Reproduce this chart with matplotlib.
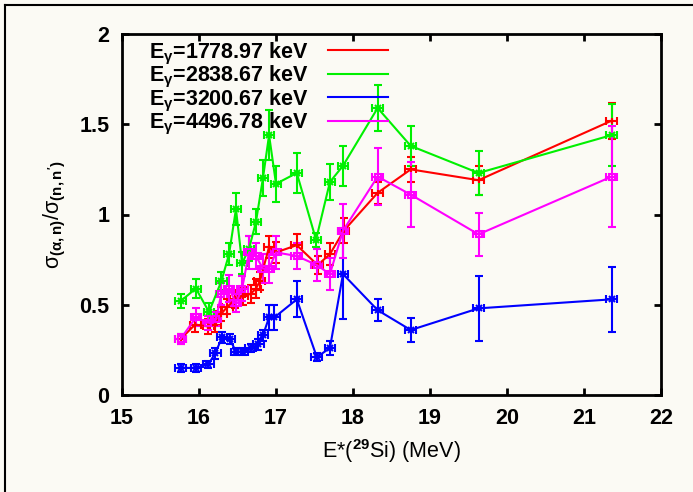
import matplotlib
matplotlib.use("Agg")
import matplotlib.pyplot as plt
from matplotlib.lines import Line2D

plt.rcParams["font.family"] = ["Liberation Sans", "DejaVu Sans"]
plt.rcParams["font.weight"] = "bold"
plt.rcParams["mathtext.fontset"] = "custom"
plt.rcParams["mathtext.rm"] = "Liberation Sans:bold"
plt.rcParams["mathtext.it"] = "Liberation Sans:bold"
plt.rcParams["mathtext.bf"] = "Liberation Sans:bold"
plt.rcParams["mathtext.default"] = "rm"

# --------------------------------------------------
# Cross-section ratios vs excitation energy
# --------------------------------------------------

labels = [
    r"E$_{γ}$=1778.97 keV",
    r"E$_{γ}$=2838.67 keV",
    r"E$_{γ}$=3200.67 keV",
    r"E$_{γ}$=4496.78 keV",
]
colors = ["#ff0000", "#00f000", "#0000ff", "#ff00ff"]
markers = ["+", "x", "x", "s"]

x_err = 0.07

E_red = [15.76, 15.95, 16.12, 16.21, 16.29, 16.37, 16.47, 16.57, 16.67, 16.74, 16.79,
         16.91, 17.00, 17.27, 17.54, 17.70, 17.88, 18.32, 18.75, 19.63, 21.36]
r_red = [0.31, 0.39, 0.38, 0.39, 0.45, 0.49, 0.53, 0.55, 0.56, 0.59, 0.63,
         0.82, 0.79, 0.83, 0.72, 0.78, 0.91, 1.12, 1.25, 1.19, 1.52]
e_red = [0.03, 0.04, 0.04, 0.04, 0.04, 0.04, 0.05, 0.05, 0.05, 0.05, 0.05,
         0.06, 0.06, 0.06, 0.05, 0.06, 0.07, 0.06, 0.07, 0.08, 0.10]

E_green = [15.76, 15.96, 16.13, 16.29, 16.39, 16.48, 16.56, 16.65, 16.74, 16.83,
           16.91, 17.00, 17.27, 17.52, 17.70, 17.87, 18.32, 18.75, 19.63, 21.36]
r_green = [0.52, 0.59, 0.46, 0.63, 0.78, 1.03, 0.73, 0.81, 0.96, 1.20,
           1.44, 1.17, 1.23, 0.86, 1.18, 1.27, 1.59, 1.38, 1.23, 1.44]
e_green = [0.04, 0.05, 0.05, 0.05, 0.06, 0.09, 0.06, 0.07, 0.07, 0.10,
           0.14, 0.10, 0.11, 0.04, 0.10, 0.11, 0.13, 0.11, 0.12, 0.17]

E_blue = [15.76, 15.96, 16.12, 16.21, 16.30, 16.40, 16.48, 16.57, 16.67, 16.77, 16.83,
          16.91, 16.98, 17.27, 17.53, 17.70, 17.87, 18.32, 18.75, 19.63, 21.36]
r_blue = [0.15, 0.15, 0.17, 0.23, 0.32, 0.31, 0.24, 0.24, 0.26, 0.28, 0.33,
          0.43, 0.43, 0.53, 0.21, 0.26, 0.67, 0.47, 0.36, 0.48, 0.53]
e_blue = [0.02, 0.02, 0.02, 0.03, 0.03, 0.03, 0.02, 0.02, 0.02, 0.03, 0.03,
          0.07, 0.07, 0.10, 0.02, 0.04, 0.25, 0.06, 0.065, 0.18, 0.18]

E_mag = [15.76, 15.96, 16.12, 16.22, 16.29, 16.39, 16.48, 16.56, 16.65, 16.74, 16.83,
         16.91, 17.00, 17.27, 17.53, 17.70, 17.87, 18.32, 18.75, 19.63, 21.36]
r_mag = [0.31, 0.43, 0.40, 0.42, 0.56, 0.59, 0.51, 0.59, 0.79, 0.77, 0.70,
         0.70, 0.79, 0.77, 0.72, 0.67, 0.91, 1.21, 1.11, 0.89, 1.21]
e_mag = [0.03, 0.05, 0.04, 0.04, 0.06, 0.075, 0.05, 0.07, 0.09, 0.07, 0.08,
         0.08, 0.09, 0.07, 0.09, 0.09, 0.15, 0.16, 0.18, 0.12, 0.28]

series = [
    (E_red, r_red, e_red),
    (E_green, r_green, e_green),
    (E_blue, r_blue, e_blue),
    (E_mag, r_mag, e_mag),
]

# --------------------------------------------------
# Plot
# --------------------------------------------------

bg = "#fbfaf4"
fig = plt.figure(figsize=(6.93, 4.92), dpi=100, facecolor=bg)
ax = fig.add_axes([122 / 693, 1 - 395 / 492, 539 / 693, 361 / 492])
ax.set_facecolor("none")

for (E, r, e), c, mk in zip(series, colors, markers):
    ax.errorbar(
        E, r, yerr=e, xerr=x_err,
        color=c, lw=1.5, elinewidth=1.5, capsize=3, capthick=1.5,
        marker=mk, ms=5, mfc="none", mew=1.5,
    )

ax.set_xlim(15, 22)
ax.set_ylim(0, 2)
ax.set_xticks(range(15, 23))
ax.set_yticks([0, 0.5, 1, 1.5, 2])
ax.set_yticklabels(["0", "0.5", "1", "1.5", "2"])

ax.tick_params(direction="in", length=5, width=2, top=True, right=True,
               labelsize=15.5, pad=9)
for s in ax.spines.values():
    s.set_linewidth(2)

ax.set_xlabel(r"E*($^{29}$Si) (MeV)", fontsize=15.5, labelpad=6)
ax.set_ylabel(r"σ$_{(α,n)}$/σ$_{(n,n')}$", fontsize=15.5, labelpad=8)

handles = [Line2D([], [], color=c, lw=1.5) for c in colors]
ax.legend(handles, labels, loc="upper left", bbox_to_anchor=(0.05, 0.982),
          frameon=False, markerfirst=False, fontsize=15.5, handlelength=2.8,
          handletextpad=0.9, labelspacing=-0.12, borderpad=0, borderaxespad=0)

# outer frame
fig.add_artist(Line2D([5 / 693, 1], [1 - 4.5 / 492] * 2, transform=fig.transFigure,
                      color="k", lw=1.5))
fig.add_artist(Line2D([5 / 693] * 2, [0, 1 - 4.5 / 492], transform=fig.transFigure,
                      color="k", lw=1.5))

fig.savefig("out.png", dpi=100, facecolor=bg)
